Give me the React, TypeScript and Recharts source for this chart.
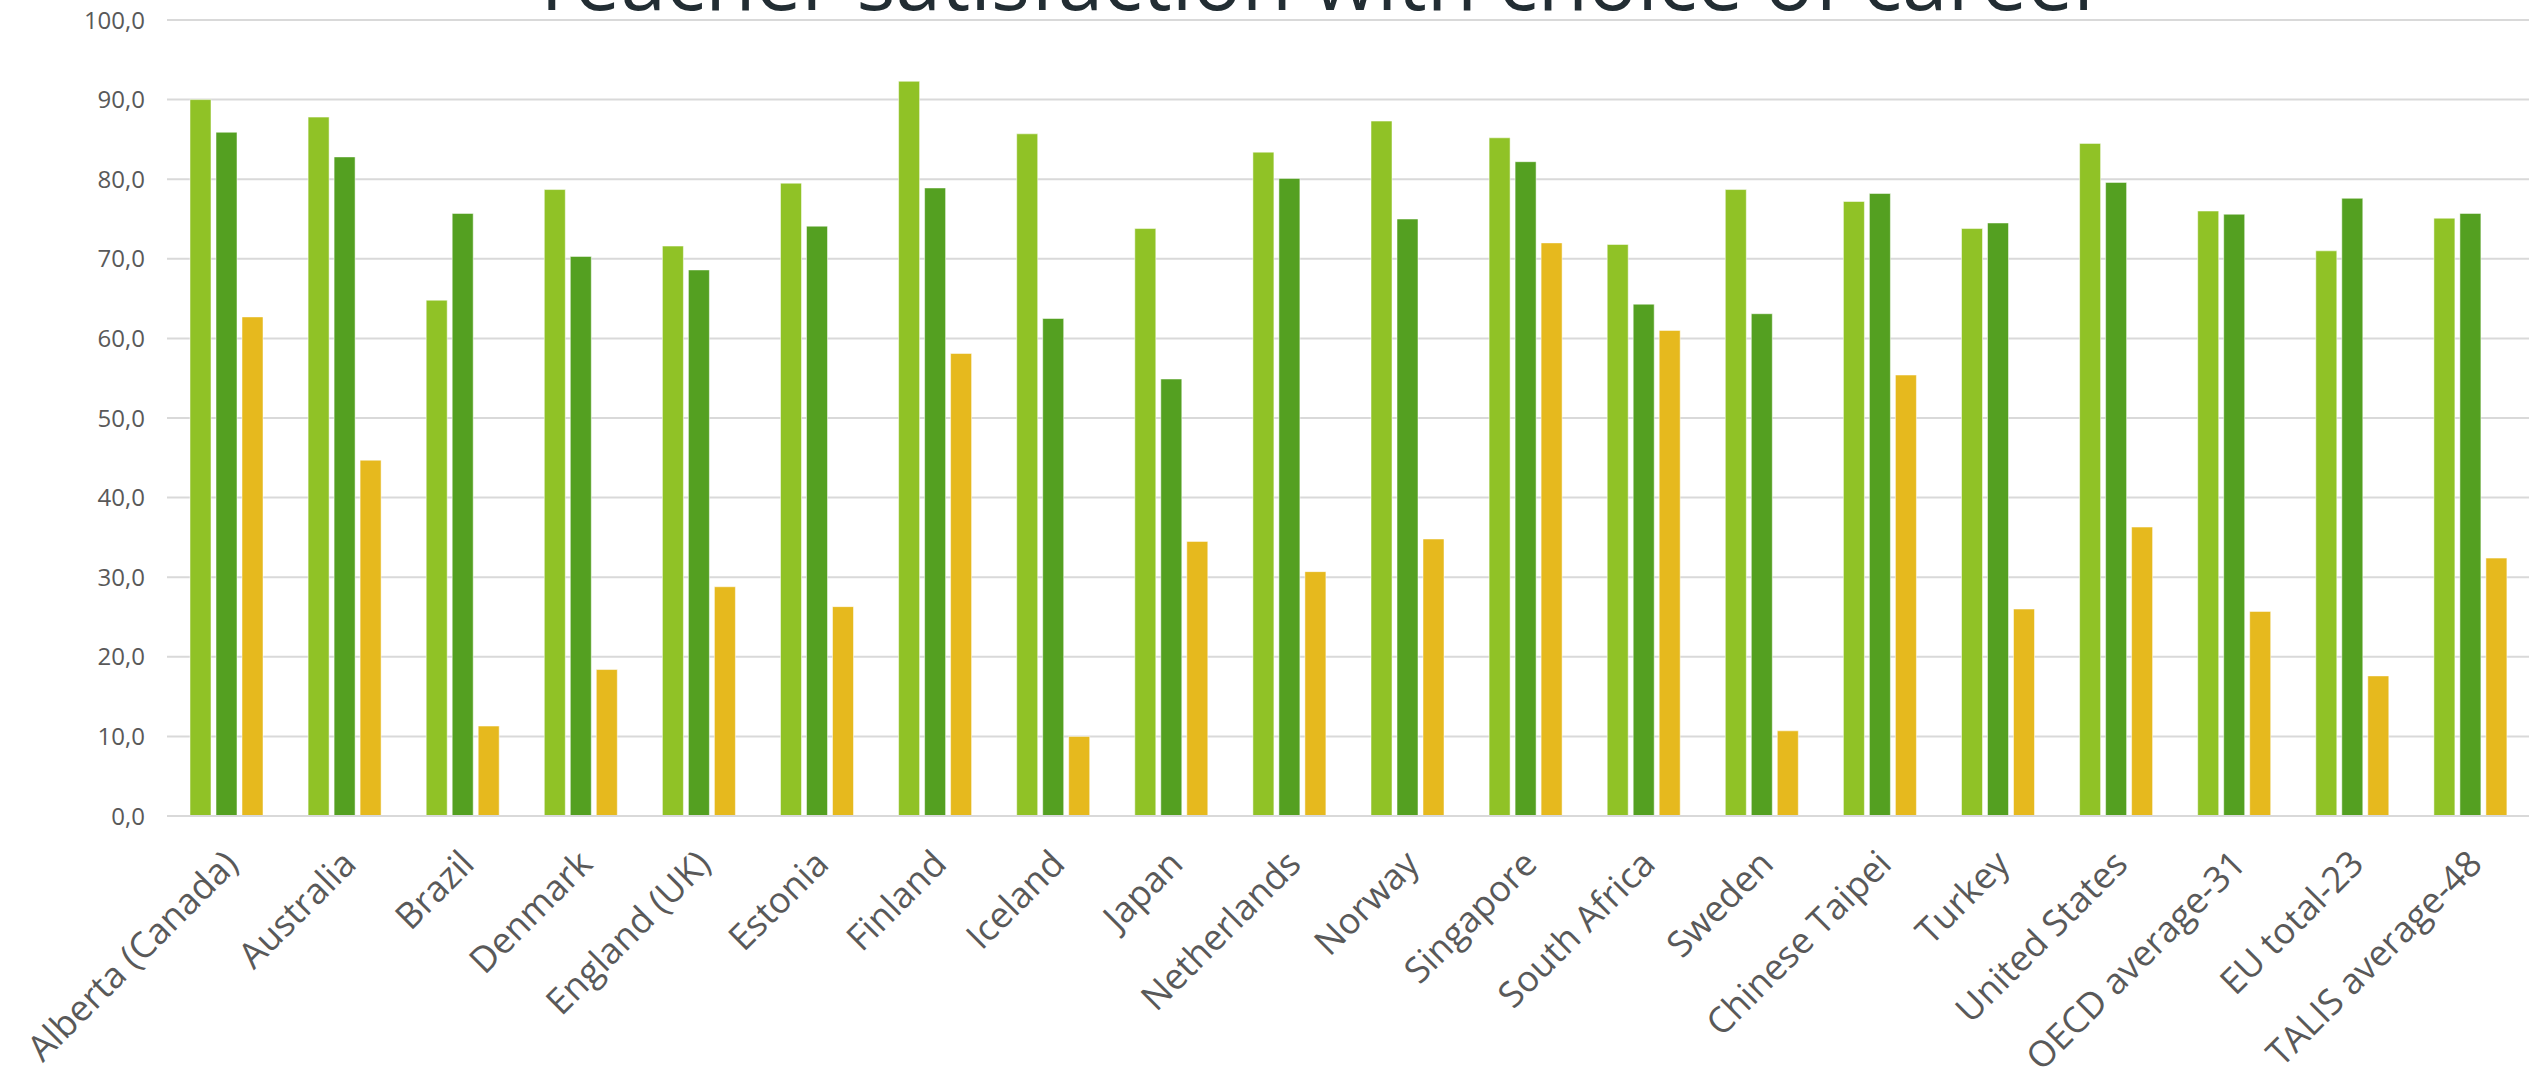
import { BarChart, Bar, XAxis, YAxis, CartesianGrid } from 'recharts';

const categories = [
  'Alberta (Canada)', 'Australia', 'Brazil', 'Denmark', 'England (UK)', 'Estonia',
  'Finland', 'Iceland', 'Japan', 'Netherlands', 'Norway', 'Singapore', 'South Africa',
  'Sweden', 'Chinese Taipei', 'Turkey', 'United States', 'OECD average-31',
  'EU total-23', 'TALIS average-48',
];

const advantagesOutweigh = [
  90.0, 87.8, 64.8, 78.7, 71.6, 79.5, 92.3, 85.7, 73.8, 83.4,
  87.3, 85.2, 71.8, 78.7, 77.2, 73.8, 84.5, 76.0, 71.0, 75.1,
];
const wouldChooseAgain = [
  85.9, 82.8, 75.7, 70.3, 68.6, 74.1, 78.9, 62.5, 54.9, 80.1,
  75.0, 82.2, 64.3, 63.1, 78.2, 74.5, 79.6, 75.6, 77.6, 75.7,
];
const valuedInSociety = [
  62.7, 44.7, 11.3, 18.4, 28.8, 26.3, 58.1, 10.0, 34.5, 30.7,
  34.8, 72.0, 61.0, 10.7, 55.4, 26.0, 36.3, 25.7, 17.6, 32.4,
];

const yTicks = [0, 10, 20, 30, 40, 50, 60, 70, 80, 90, 100];

const data = categories.map((name, i) => ({
  name,
  advantages: advantagesOutweigh[i],
  again: wouldChooseAgain[i],
  valued: valuedInSociety[i],
}));

const FONT = '"Open Sans", "Noto Sans", sans-serif';
const W = 2529;
const H = 1067;

function CategoryTick({ x, y, payload }: any) {
  return (
    <g transform={`translate(${x + 14},${y + 50}) rotate(-45)`}>
      <text textAnchor="end" fill="#595959" fontSize={36} fontFamily={FONT}>
        {payload.value}
      </text>
    </g>
  );
}

export default function App() {
  return (
    <div style={{ position: 'fixed', left: 0, top: 0, width: W, height: H, background: '#fff' }}>
      <BarChart
        width={W}
        height={H}
        data={data}
        margin={{ top: 20, right: 0, left: 0, bottom: 0 }}
        barSize={21}
        barGap={5}
      >
        <CartesianGrid vertical={false} stroke="#d9d9d9" strokeWidth={2} />
        <XAxis
          dataKey="name"
          interval={0}
          height={251}
          axisLine={{ stroke: '#d9d9d9', strokeWidth: 2 }}
          tickLine={false}
          tickSize={0}
          tickMargin={0}
          tick={<CategoryTick />}
        />
        <YAxis
          width={167}
          domain={[0, 100]}
          ticks={yTicks}
          axisLine={false}
          tickLine={false}
          tickMargin={16}
          tickFormatter={(v: number) => v.toFixed(1).replace('.', ',')}
          tick={{ fill: '#595959', fontSize: 24, fontFamily: FONT }}
        />
        <Bar dataKey="advantages" fill="#90c226" stroke="#ffffff" strokeOpacity={0.5} strokeWidth={1} isAnimationActive={false} />
        <Bar dataKey="again" fill="#54a021" stroke="#ffffff" strokeOpacity={0.5} strokeWidth={1} isAnimationActive={false} />
        <Bar dataKey="valued" fill="#e6b91e" stroke="#ffffff" strokeOpacity={0.5} strokeWidth={1} isAnimationActive={false} />
      </BarChart>
      <svg width={W} height={40} style={{ position: 'absolute', left: 0, top: 0, pointerEvents: 'none' }}>
        <text x={1318} y={10} textAnchor="middle" fill="#222d33" fontSize={82} fontFamily={FONT}>
          Teacher satisfaction with choice of career
        </text>
      </svg>
    </div>
  );
}
